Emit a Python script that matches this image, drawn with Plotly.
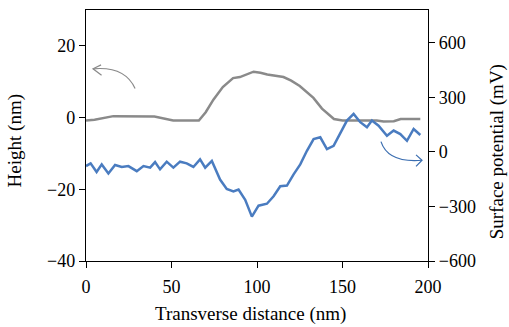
import plotly.graph_objects as go

# Height profile (nm), left axis
height_x = [0, 5, 16, 40, 51, 66, 70, 74.5, 80, 86, 90, 98, 102, 106, 115.5, 120, 125, 133, 138, 143, 145, 150, 160, 170, 174, 180, 184, 195.5]
height_y = [-0.8, -0.6, 0.4, 0.3, -0.8, -0.8, 1.5, 5, 8.5, 11, 11.3, 12.8, 12.5, 12, 11.3, 10.3, 8.8, 5.5, 2.5, 0.4, -0.4, -0.8, -0.8, -0.8, -1.1, -1.0, -0.4, -0.4]

# Surface potential (mV), right axis
pot_x = [0, 2.7, 6.2, 9.2, 13.1, 17, 20.9, 24.8, 29.7, 33.6, 37.5, 40.4, 43.3, 47.2, 51.1, 55, 58.9, 62.8,
         66.7, 69.7, 73.6, 78.4, 82.3, 86.2, 89.2, 93.1, 97, 100.9, 105.8, 109.7, 113.6, 117.5, 121.4,
         125.3, 129.2, 133.1, 137, 140.9, 144.8, 148.7, 152.6, 156.5, 160.4, 164.3, 167.2, 171.1, 176,
         179.9, 183.8, 187.7, 191.6, 195.5]
pot_y = [-78, -63, -111, -69, -119, -72, -83, -78, -106, -78, -87, -56, -96, -54, -87, -54, -63, -83,
         -41, -87, -50, -152, -204, -217, -207, -263, -356, -296, -285, -244, -189, -185, -124,
         -69, 6, 70, 80, 15, 33, 107, 172, 209, 163, 135, 172, 144, 89,
         117, 98, 61, 126, 93]

x_ticks = [0, 50, 100, 150, 200]
left_ticks = [20, 0, -20, -40]
right_ticks = [600, 300, 0, -300, -600]

FONT = "Liberation Serif"
GRAY = "#8a8a8a"
BLUE = "#4a7cc0"

fig = go.Figure()
fig.add_trace(go.Scatter(x=height_x, y=height_y, mode="lines",
                         line=dict(color=GRAY, width=2.5), yaxis="y"))
fig.add_trace(go.Scatter(x=pot_x, y=pot_y, mode="lines",
                         line=dict(color=BLUE, width=2.5), yaxis="y2"))

# curved indicator arrows
fig.add_shape(type="path", path="M 28.7,8.1 Q 22.8,14.4 4.1,13.6", xref="x", yref="y",
              line=dict(color=GRAY, width=1.2))
fig.add_shape(type="path", path="M 8.8,14.7 L 4.1,13.6 L 9.1,11.8", xref="x", yref="y",
              line=dict(color=GRAY, width=1.2))
fig.add_shape(type="path", path="M 172.5,-6.7 Q 176.6,-12.7 196.5,-11.9", xref="x", yref="y",
              line=dict(color="#3a6db0", width=1.2))
fig.add_shape(type="path", path="M 193,-10.4 L 196.5,-11.9 L 193,-13.6", xref="x", yref="y",
              line=dict(color="#3a6db0", width=1.2))

axis_common = dict(showgrid=False, zeroline=False, showline=True, linecolor="black",
                   linewidth=1.3, ticks="outside", ticklen=6, tickwidth=1.3, tickcolor="black",
                   tickfont=dict(family=FONT, size=18, color="black"))

fig.update_layout(
    width=509, height=327,
    margin=dict(l=86, r=81, t=10, b=66),
    paper_bgcolor="white", plot_bgcolor="white",
    showlegend=False,
    xaxis=dict(range=[0, 200], tickvals=x_ticks, mirror=True, ticklabelstandoff=3, **axis_common),
    yaxis=dict(range=[-40, 30], tickvals=left_ticks, tickmode="array",
               ticktext=["20", "0", "\u221220", "\u221240"], **axis_common),
    yaxis2=dict(range=[-600, 780], tickvals=right_ticks, overlaying="y", side="right",
                ticktext=["600", "300", "0", "\u2212300", "\u2212600"], **axis_common),
    annotations=[
        dict(text="Transverse distance (nm)", xref="paper", yref="paper", x=0.48, y=-0.21,
             showarrow=False, xanchor="center", yanchor="middle",
             font=dict(family=FONT, size=19, color="black")),
        dict(text="Height (nm)", xref="paper", yref="paper", x=-0.208, y=0.48,
             textangle=-90, showarrow=False, xanchor="center", yanchor="middle",
             font=dict(family=FONT, size=19, color="black")),
        dict(text="Surface potential (mV)", xref="paper", yref="paper", x=1.2, y=0.435,
             textangle=-90, showarrow=False, xanchor="center", yanchor="middle",
             font=dict(family=FONT, size=19, color="black")),
    ],
)

fig.write_html("out.html")
